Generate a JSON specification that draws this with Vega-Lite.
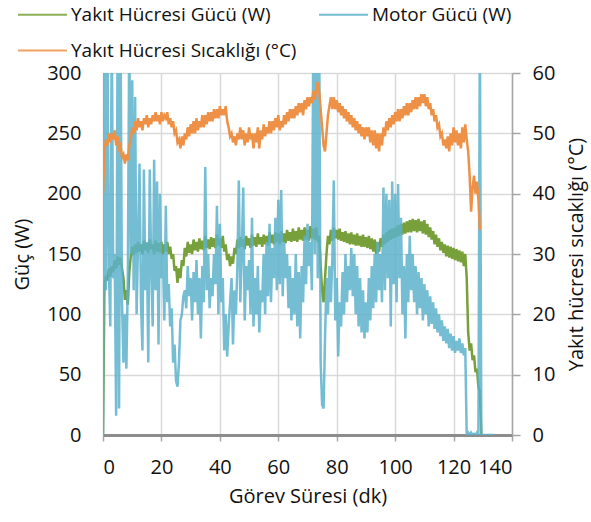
{
  "$schema": "https://vega.github.io/schema/vega-lite/v6.json",
  "width": 409,
  "height": 362,
  "autosize": {"type": "none"},
  "padding": {"left": 103, "top": 73, "right": 79, "bottom": 87},
  "config": {
    "font": "Open Sans",
    "view": {"stroke": null},
    "axis": {"labelColor": "#111", "titleColor": "#111", "titleFontWeight": "normal", "labelFontSize": 20, "titleFontSize": 20}
  },
  "data": {"values": [
    {"t":0,"fc":0,"motor":0,"temp":40},{"t":0.5,"fc":125,"motor":340,"temp":47},{"t":1,"fc":132,"motor":120,"temp":49},{"t":1.5,"fc":128,"motor":340,"temp":48},
    {"t":2,"fc":138,"motor":140,"temp":50},{"t":2.5,"fc":131,"motor":90,"temp":48.5},{"t":3,"fc":140,"motor":340,"temp":50},{"t":3.5,"fc":135,"motor":130,"temp":49},
    {"t":4,"fc":145,"motor":150,"temp":50.5},{"t":4.5,"fc":138,"motor":16,"temp":48},{"t":5,"fc":148,"motor":340,"temp":49.5},{"t":5.5,"fc":141,"motor":22,"temp":47.5},
    {"t":6,"fc":147,"motor":340,"temp":48},{"t":6.5,"fc":138,"motor":110,"temp":46},{"t":7,"fc":130,"motor":60,"temp":46.5},{"t":7.5,"fc":112,"motor":100,"temp":45},
    {"t":8,"fc":120,"motor":55,"temp":46.5},{"t":8.5,"fc":108,"motor":130,"temp":45.5},{"t":9,"fc":135,"motor":340,"temp":48},{"t":9.5,"fc":148,"motor":150,"temp":49},
    {"t":10,"fc":156,"motor":294,"temp":51},{"t":10.5,"fc":149,"motor":120,"temp":50},{"t":11,"fc":158,"motor":280,"temp":52},{"t":11.5,"fc":151,"motor":100,"temp":50.5},
    {"t":12,"fc":160,"motor":160,"temp":52.5},{"t":12.5,"fc":152,"motor":225,"temp":51},{"t":13,"fc":158,"motor":110,"temp":52},{"t":13.5,"fc":150,"motor":70,"temp":50.5},
    {"t":14,"fc":161,"motor":220,"temp":52.5},{"t":14.5,"fc":153,"motor":120,"temp":51.5},{"t":15,"fc":159,"motor":160,"temp":53},{"t":15.5,"fc":151,"motor":60,"temp":51},
    {"t":16,"fc":162,"motor":220,"temp":52.5},{"t":16.5,"fc":154,"motor":140,"temp":51.5},{"t":17,"fc":158,"motor":90,"temp":53},{"t":17.5,"fc":150,"motor":228,"temp":52},
    {"t":18,"fc":161,"motor":120,"temp":53.5},{"t":18.5,"fc":152,"motor":210,"temp":52},{"t":19,"fc":159,"motor":75,"temp":53},{"t":19.5,"fc":151,"motor":200,"temp":51.5},
    {"t":20,"fc":160,"motor":130,"temp":53.5},{"t":20.5,"fc":150,"motor":150,"temp":52},{"t":21,"fc":158,"motor":95,"temp":53},{"t":21.5,"fc":152,"motor":190,"temp":52.5},
    {"t":22,"fc":160,"motor":110,"temp":53.5},{"t":22.5,"fc":150,"motor":125,"temp":51.5},{"t":23,"fc":156,"motor":90,"temp":52.5},{"t":23.5,"fc":146,"motor":105,"temp":51},
    {"t":24,"fc":150,"motor":60,"temp":52},{"t":24.5,"fc":136,"motor":75,"temp":50},{"t":25,"fc":140,"motor":45,"temp":50.5},{"t":25.5,"fc":126,"motor":40,"temp":48.5},
    {"t":26,"fc":138,"motor":60,"temp":49},{"t":26.5,"fc":130,"motor":95,"temp":47.5},{"t":27,"fc":145,"motor":100,"temp":49.5},{"t":27.5,"fc":140,"motor":115,"temp":48},
    {"t":28,"fc":155,"motor":120,"temp":50},{"t":28.5,"fc":148,"motor":105,"temp":49},{"t":29,"fc":160,"motor":140,"temp":51},{"t":29.5,"fc":151,"motor":115,"temp":49.5},
    {"t":30,"fc":158,"motor":130,"temp":51.5},{"t":30.5,"fc":150,"motor":95,"temp":50},{"t":31,"fc":162,"motor":135,"temp":52},{"t":31.5,"fc":153,"motor":110,"temp":50},
    {"t":32,"fc":160,"motor":145,"temp":52.5},{"t":32.5,"fc":152,"motor":100,"temp":50.5},{"t":33,"fc":163,"motor":130,"temp":52},{"t":33.5,"fc":154,"motor":80,"temp":51},
    {"t":34,"fc":161,"motor":140,"temp":53},{"t":34.5,"fc":153,"motor":110,"temp":51},{"t":35,"fc":165,"motor":222,"temp":53},{"t":35.5,"fc":155,"motor":120,"temp":51.5},
    {"t":36,"fc":162,"motor":150,"temp":53.5},{"t":36.5,"fc":154,"motor":105,"temp":52},{"t":37,"fc":164,"motor":130,"temp":53.5},{"t":37.5,"fc":156,"motor":115,"temp":52},
    {"t":38,"fc":163,"motor":150,"temp":54},{"t":38.5,"fc":155,"motor":125,"temp":52.5},{"t":39,"fc":166,"motor":190,"temp":54},{"t":39.5,"fc":157,"motor":100,"temp":52.5},
    {"t":40,"fc":163,"motor":175,"temp":54.5},{"t":40.5,"fc":155,"motor":110,"temp":53},{"t":41,"fc":165,"motor":130,"temp":54},{"t":41.5,"fc":152,"motor":70,"temp":53},
    {"t":42,"fc":158,"motor":100,"temp":54.5},{"t":42.5,"fc":145,"motor":65,"temp":52},{"t":43,"fc":150,"motor":90,"temp":51},{"t":43.5,"fc":140,"motor":110,"temp":49.5},
    {"t":44,"fc":148,"motor":130,"temp":50},{"t":44.5,"fc":142,"motor":75,"temp":48.5},{"t":45,"fc":155,"motor":120,"temp":49.5},{"t":45.5,"fc":150,"motor":100,"temp":48},
    {"t":46,"fc":162,"motor":140,"temp":50},{"t":46.5,"fc":155,"motor":211,"temp":49},{"t":47,"fc":164,"motor":110,"temp":51},{"t":47.5,"fc":156,"motor":150,"temp":49},
    {"t":48,"fc":162,"motor":205,"temp":50.5},{"t":48.5,"fc":154,"motor":95,"temp":48},{"t":49,"fc":165,"motor":140,"temp":50},{"t":49.5,"fc":157,"motor":120,"temp":48.5},
    {"t":50,"fc":163,"motor":145,"temp":51},{"t":50.5,"fc":155,"motor":100,"temp":49},{"t":51,"fc":166,"motor":180,"temp":50},{"t":51.5,"fc":157,"motor":90,"temp":47.5},
    {"t":52,"fc":164,"motor":130,"temp":50},{"t":52.5,"fc":156,"motor":100,"temp":48.5},{"t":53,"fc":167,"motor":140,"temp":51},{"t":53.5,"fc":158,"motor":85,"temp":47.5},
    {"t":54,"fc":164,"motor":120,"temp":50.5},{"t":54.5,"fc":156,"motor":110,"temp":49},{"t":55,"fc":166,"motor":150,"temp":51.5},{"t":55.5,"fc":158,"motor":100,"temp":49.5},
    {"t":56,"fc":165,"motor":160,"temp":51},{"t":56.5,"fc":157,"motor":115,"temp":50},{"t":57,"fc":168,"motor":175,"temp":52},{"t":57.5,"fc":159,"motor":110,"temp":50},
    {"t":58,"fc":166,"motor":155,"temp":52},{"t":58.5,"fc":158,"motor":130,"temp":50.5},{"t":59,"fc":168,"motor":180,"temp":52.5},{"t":59.5,"fc":160,"motor":120,"temp":51},
    {"t":60,"fc":167,"motor":195,"temp":53},{"t":60.5,"fc":158,"motor":125,"temp":50.5},{"t":61,"fc":169,"motor":203,"temp":52},{"t":61.5,"fc":160,"motor":115,"temp":51},
    {"t":62,"fc":167,"motor":160,"temp":53},{"t":62.5,"fc":159,"motor":130,"temp":51.5},{"t":63,"fc":170,"motor":150,"temp":53.5},{"t":63.5,"fc":161,"motor":105,"temp":52},
    {"t":64,"fc":168,"motor":140,"temp":54},{"t":64.5,"fc":160,"motor":95,"temp":52.5},{"t":65,"fc":171,"motor":130,"temp":54},{"t":65.5,"fc":161,"motor":100,"temp":52.5},
    {"t":66,"fc":169,"motor":150,"temp":54.5},{"t":66.5,"fc":160,"motor":90,"temp":53},{"t":67,"fc":172,"motor":135,"temp":55},{"t":67.5,"fc":162,"motor":80,"temp":53.5},
    {"t":68,"fc":170,"motor":140,"temp":55},{"t":68.5,"fc":161,"motor":110,"temp":53},{"t":69,"fc":172,"motor":165,"temp":55.5},{"t":69.5,"fc":162,"motor":125,"temp":54},
    {"t":70,"fc":170,"motor":175,"temp":56},{"t":70.5,"fc":161,"motor":140,"temp":54.5},{"t":71,"fc":173,"motor":160,"temp":56},{"t":71.5,"fc":163,"motor":120,"temp":55},
    {"t":72,"fc":171,"motor":340,"temp":57},{"t":72.5,"fc":162,"motor":150,"temp":55.5},{"t":73,"fc":172,"motor":340,"temp":57.5},{"t":73.5,"fc":160,"motor":130,"temp":58.5},
    {"t":74,"fc":165,"motor":340,"temp":57},{"t":74.5,"fc":140,"motor":60,"temp":54},{"t":75,"fc":120,"motor":25,"temp":51},{"t":75.5,"fc":110,"motor":22,"temp":48},
    {"t":76,"fc":130,"motor":80,"temp":47},{"t":76.5,"fc":150,"motor":130,"temp":50},{"t":77,"fc":165,"motor":100,"temp":53},{"t":77.5,"fc":158,"motor":140,"temp":54.5},
    {"t":78,"fc":170,"motor":110,"temp":56},{"t":78.5,"fc":161,"motor":145,"temp":54},{"t":79,"fc":172,"motor":211,"temp":56},{"t":79.5,"fc":163,"motor":95,"temp":54},
    {"t":80,"fc":170,"motor":130,"temp":55.5},{"t":80.5,"fc":162,"motor":65,"temp":53.5},{"t":81,"fc":171,"motor":110,"temp":55},{"t":81.5,"fc":161,"motor":90,"temp":53},
    {"t":82,"fc":168,"motor":135,"temp":54.5},{"t":82.5,"fc":160,"motor":100,"temp":52.5},{"t":83,"fc":169,"motor":150,"temp":54},{"t":83.5,"fc":159,"motor":110,"temp":52},
    {"t":84,"fc":167,"motor":140,"temp":53.5},{"t":84.5,"fc":158,"motor":120,"temp":51.5},{"t":85,"fc":168,"motor":155,"temp":53},{"t":85.5,"fc":158,"motor":115,"temp":51},
    {"t":86,"fc":166,"motor":150,"temp":52.5},{"t":86.5,"fc":157,"motor":100,"temp":50.5},{"t":87,"fc":167,"motor":140,"temp":52},{"t":87.5,"fc":157,"motor":90,"temp":50},
    {"t":88,"fc":165,"motor":130,"temp":51.5},{"t":88.5,"fc":156,"motor":85,"temp":49.5},{"t":89,"fc":166,"motor":120,"temp":51},{"t":89.5,"fc":156,"motor":80,"temp":49},
    {"t":90,"fc":164,"motor":110,"temp":51},{"t":90.5,"fc":155,"motor":85,"temp":49.5},{"t":91,"fc":165,"motor":130,"temp":51},{"t":91.5,"fc":154,"motor":95,"temp":48.5},
    {"t":92,"fc":163,"motor":140,"temp":50.5},{"t":92.5,"fc":152,"motor":105,"temp":48},{"t":93,"fc":162,"motor":150,"temp":50.5},{"t":93.5,"fc":150,"motor":110,"temp":47.5},
    {"t":94,"fc":160,"motor":160,"temp":50},{"t":94.5,"fc":152,"motor":120,"temp":47},{"t":95,"fc":163,"motor":150,"temp":50},{"t":95.5,"fc":156,"motor":110,"temp":48},
    {"t":96,"fc":166,"motor":205,"temp":51},{"t":96.5,"fc":158,"motor":120,"temp":49.5},{"t":97,"fc":168,"motor":200,"temp":52},{"t":97.5,"fc":160,"motor":130,"temp":50.5},
    {"t":98,"fc":170,"motor":195,"temp":52.5},{"t":98.5,"fc":162,"motor":90,"temp":51},{"t":99,"fc":171,"motor":210,"temp":53},{"t":99.5,"fc":163,"motor":125,"temp":51.5},
    {"t":100,"fc":172,"motor":200,"temp":53.5},{"t":100.5,"fc":164,"motor":110,"temp":52},{"t":101,"fc":174,"motor":208,"temp":54},{"t":101.5,"fc":165,"motor":130,"temp":52},
    {"t":102,"fc":175,"motor":180,"temp":54},{"t":102.5,"fc":166,"motor":100,"temp":52.5},{"t":103,"fc":176,"motor":140,"temp":54.5},{"t":103.5,"fc":167,"motor":80,"temp":53},
    {"t":104,"fc":177,"motor":150,"temp":55},{"t":104.5,"fc":168,"motor":110,"temp":53},{"t":105,"fc":178,"motor":165,"temp":55},{"t":105.5,"fc":168,"motor":120,"temp":53.5},
    {"t":106,"fc":179,"motor":150,"temp":55.5},{"t":106.5,"fc":169,"motor":110,"temp":54},{"t":107,"fc":178,"motor":140,"temp":56},{"t":107.5,"fc":168,"motor":100,"temp":54},
    {"t":108,"fc":179,"motor":135,"temp":56},{"t":108.5,"fc":169,"motor":105,"temp":54.5},{"t":109,"fc":177,"motor":130,"temp":56.5},{"t":109.5,"fc":167,"motor":95,"temp":55},
    {"t":110,"fc":178,"motor":125,"temp":56.5},{"t":110.5,"fc":166,"motor":100,"temp":54.5},{"t":111,"fc":175,"motor":120,"temp":56},{"t":111.5,"fc":164,"motor":90,"temp":54},
    {"t":112,"fc":172,"motor":115,"temp":55},{"t":112.5,"fc":162,"motor":92,"temp":53},{"t":113,"fc":169,"motor":110,"temp":54},{"t":113.5,"fc":158,"motor":88,"temp":52},
    {"t":114,"fc":166,"motor":105,"temp":53},{"t":114.5,"fc":156,"motor":85,"temp":51},{"t":115,"fc":163,"motor":100,"temp":51.5},{"t":115.5,"fc":153,"motor":82,"temp":49.5},
    {"t":116,"fc":160,"motor":95,"temp":50},{"t":116.5,"fc":151,"motor":78,"temp":48},{"t":117,"fc":158,"motor":90,"temp":49},{"t":117.5,"fc":148,"motor":76,"temp":47.5},
    {"t":118,"fc":157,"motor":88,"temp":49.5},{"t":118.5,"fc":147,"motor":72,"temp":47},{"t":119,"fc":156,"motor":84,"temp":50},{"t":119.5,"fc":146,"motor":70,"temp":48},
    {"t":120,"fc":155,"motor":82,"temp":51},{"t":120.5,"fc":145,"motor":68,"temp":48.5},{"t":121,"fc":154,"motor":78,"temp":50.5},{"t":121.5,"fc":144,"motor":70,"temp":48},
    {"t":122,"fc":153,"motor":80,"temp":50},{"t":122.5,"fc":143,"motor":68,"temp":47.5},{"t":123,"fc":152,"motor":76,"temp":51},{"t":123.5,"fc":140,"motor":66,"temp":48.5},
    {"t":124,"fc":150,"motor":72,"temp":51.5},{"t":124.5,"fc":130,"motor":0,"temp":49},{"t":125,"fc":85,"motor":2,"temp":47},{"t":125.5,"fc":70,"motor":0,"temp":43},
    {"t":126,"fc":76,"motor":2,"temp":37},{"t":126.5,"fc":62,"motor":0,"temp":41},{"t":127,"fc":66,"motor":1,"temp":43},{"t":127.5,"fc":52,"motor":0,"temp":40},
    {"t":128,"fc":55,"motor":2,"temp":42},{"t":128.5,"fc":40,"motor":0,"temp":39},{"t":129,"fc":36,"motor":340,"temp":34},{"t":129.5,"fc":0,"motor":0},
    {"t":130,"motor":0},{"t":131,"motor":0},{"t":132,"motor":0},{"t":133,"motor":0},{"t":134,"motor":0}
  ]},
  "encoding": {
    "x": {
      "field": "t", "type": "quantitative",
      "scale": {"domain": [0, 140], "nice": false},
      "axis": {
        "title": "Görev Süresi (dk)", "values": [0, 20, 40, 60, 80, 100, 120, 140],
        "grid": true, "gridColor": "#d9d9d9", "gridWidth": 1.5,
        "domainColor": "#8c8c8c", "domainWidth": 3,
        "tickColor": "#a6a6a6", "tickSize": 6, "tickWidth": 1.5,
        "labelPadding": 16, "titlePadding": 9
      }
    }
  },
  "layer": [
    {
      "encoding": {
        "y": {
          "type": "quantitative",
          "scale": {"domain": [0, 300], "nice": false},
          "axis": {
            "title": "Güç (W)", "values": [0, 50, 100, 150, 200, 250, 300],
            "grid": true, "gridColor": "#d9d9d9", "gridWidth": 1.5,
            "domain": false, "ticks": false, "labelPadding": 22, "titlePadding": 14
          }
        }
      },
      "layer": [
        {
          "mark": {"type": "line", "clip": true, "strokeWidth": 2.5},
          "encoding": {
            "y": {"field": "fc", "type": "quantitative"},
            "color": {
              "datum": "Yakıt Hücresi Gücü (W)", "type": "nominal",
              "scale": {
                "domain": ["Yakıt Hücresi Gücü (W)", "Yakıt Hücresi Sıcaklığı (°C)", "Motor Gücü (W)"],
                "range": ["#78a03a", "#ee9147", "#5cb2cb"]
              },
              "legend": {
                "title": null, "orient": "none", "legendX": -86, "legendY": -84,
                "columns": 2, "columnPadding": 18, "rowPadding": -27,
                "symbolType": "stroke", "symbolSize": 2400, "symbolStrokeWidth": 2,
                "labelFontSize": 19, "labelColor": "#111", "labelOffset": 3, "labelLimit": 400
              }
            }
          }
        },
        {
          "mark": {"type": "line", "clip": true, "strokeWidth": 2.5, "opacity": 0.85},
          "encoding": {
            "y": {"field": "motor", "type": "quantitative"},
            "color": {"datum": "Motor Gücü (W)", "type": "nominal"}
          }
        }
      ]
    },
    {
      "mark": {"type": "line", "clip": true, "strokeWidth": 2.5},
      "encoding": {
        "y": {
          "field": "temp", "type": "quantitative",
          "scale": {"domain": [0, 60], "nice": false},
          "axis": {
            "orient": "right", "title": "Yakıt hücresi sıcaklığı (°C)",
            "values": [0, 10, 20, 30, 40, 50, 60], "grid": false,
            "domainColor": "#a6a6a6", "domainWidth": 1.5,
            "tickColor": "#a6a6a6", "tickSize": 8, "tickWidth": 1.5,
            "labelPadding": 12, "titleAngle": 270, "titleBaseline": "top", "titlePadding": 12
          }
        },
        "color": {"datum": "Yakıt Hücresi Sıcaklığı (°C)", "type": "nominal"}
      }
    }
  ],
  "resolve": {"scale": {"y": "independent"}}
}
